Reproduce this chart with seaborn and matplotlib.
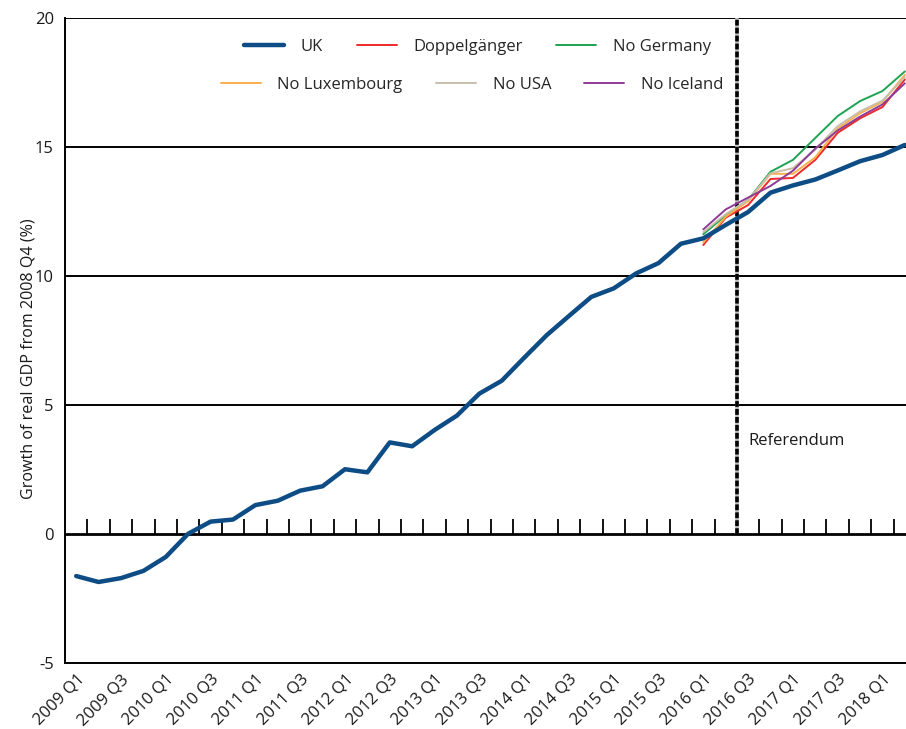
import numpy as np
import pandas as pd
import matplotlib
matplotlib.use("Agg")
import matplotlib.pyplot as plt
import seaborn as sns
from matplotlib.lines import Line2D

# ---------------- data ----------------
years = list(range(2009, 2019))
quarters = [f"{y} Q{q}" for y in years for q in range(1, 5)][:38]  # 2009 Q1 .. 2018 Q2

uk = [-1.63, -1.86, -1.71, -1.43, -0.89, 0.01, 0.48, 0.56, 1.12, 1.29,
      1.68, 1.85, 2.51, 2.39, 3.55, 3.40, 4.03, 4.59, 5.44, 5.94,
      6.83, 7.70, 8.45, 9.19, 9.52, 10.10, 10.50, 11.25, 11.46, 11.98,
      12.48, 13.23, 13.51, 13.74, 14.09, 14.45, 14.69, 15.08]

cf_start = "2016 Q1"
doppelganger = [11.20, 12.26, 12.75, 13.76, 13.80, 14.50, 15.55, 16.11, 16.55, 17.62]
no_germany   = [11.62, 12.35, 12.95, 14.04, 14.50, 15.35, 16.20, 16.78, 17.17, 17.93]
no_luxembourg = [11.30, 12.30, 12.90, 13.96, 13.96, 14.60, 15.72, 16.31, 16.75, 17.80]
no_usa       = [11.70, 12.40, 12.95, 13.98, 14.18, 14.90, 15.81, 16.38, 16.80, 17.71]
no_iceland   = [11.81, 12.58, 13.04, 13.49, 14.08, 14.94, 15.64, 16.18, 16.65, 17.47]

series_names = ["Doppelgänger", "No Germany", "No Luxembourg", "No USA", "No Iceland"]
series_vals = [doppelganger, no_germany, no_luxembourg, no_usa, no_iceland]
colors = {"UK": "#0d4c84", "Doppelgänger": "#ee2a2a", "No Germany": "#1ea352",
          "No Luxembourg": "#f8b04c", "No USA": "#c9bfa9", "No Iceland": "#8d3b97"}

referendum_after = "2016 Q2"
yticks = [-5, 0, 5, 10, 15, 20]

# ---------------- build frames ----------------
idx = {q: i for i, q in enumerate(quarters)}
uk_df = pd.DataFrame({"x": np.arange(len(quarters)), "value": uk})
s0 = idx[cf_start]
rows = []
for name, vals in zip(series_names, series_vals):
    for k, v in enumerate(vals):
        rows.append({"x": s0 + k, "value": v, "series": name})
cf_df = pd.DataFrame(rows)

# ---------------- plot ----------------
sns.set_theme(style="white")
plt.rcParams["font.family"] = ["Open Sans", "DejaVu Sans"]

fig = plt.figure(figsize=(9.06, 7.29), dpi=100)
ax = fig.add_axes([65 / 906, 1 - 663 / 729, 1 - 65 / 906, (663 - 18) / 729])

# gridlines
for yv in yticks[2:]:
    ax.axhline(yv, color="black", lw=1.4, zorder=1)
ax.axhline(0, color="black", lw=2.0, zorder=1)

# category boundary ticks at zero line
bounds = np.arange(len(quarters) - 1) + 0.5
ax.vlines(bounds, 0, 0.58, color="black", lw=1.3, zorder=1)

# referendum line
rx = idx[referendum_after] + 0.5
ax.vlines(rx, 0, 20, color="#bbbbbb", lw=2.6, zorder=2)
ax.vlines(rx, 0, 20, color="black", lw=2.6, linestyles=(0, (1.6, 0.6)), zorder=2)
ax.text(rx + 0.5, 3.6, "Referendum", fontsize=12, va="center", ha="left", color="#1a1a1a")

sns.lineplot(data=cf_df, x="x", y="value", hue="series", hue_order=series_names,
             palette=colors, lw=1.4, ax=ax, legend=False, zorder=3)
sns.lineplot(data=uk_df, x="x", y="value", color=colors["UK"], lw=3.2, ax=ax,
             legend=False, zorder=4)

ax.set_xlim(-0.5, len(quarters) - 1 + 0.05)
ax.set_ylim(-5, 20)
ax.set_yticks(yticks)
ax.set_yticklabels([str(v) for v in yticks], fontsize=12, color="#1a1a1a")
ax.set_xticks(np.arange(0, len(quarters), 2))
ax.set_xticklabels(quarters[::2], rotation=45, ha="right", rotation_mode="anchor",
                   fontsize=12, color="#1a1a1a")
ax.tick_params(axis="both", length=0)
ax.tick_params(axis="x", pad=6)
ax.tick_params(axis="y", pad=8)
ax.set_xlabel("")
ax.set_ylabel("Growth of real GDP from 2008 Q4 (%)", fontsize=11.6, color="#1a1a1a")
ax.yaxis.set_label_coords(-0.034, 0.472)

for s in ["top", "right"]:
    ax.spines[s].set_visible(False)
for s in ["left", "bottom"]:
    ax.spines[s].set_color("black")
    ax.spines[s].set_linewidth(1.4)

# legends
row1 = ["UK", "Doppelgänger", "No Germany"]
row2 = ["No Luxembourg", "No USA", "No Iceland"]
def handles(names):
    return [Line2D([0], [0], color=colors[n], lw=(3.2 if n == "UK" else 1.4)) for n in names]
fig.legend(handles(row1), row1, loc="center", bbox_to_anchor=(0.527, 0.936), ncol=3,
           frameon=False, fontsize=12, handlelength=2.4, handletextpad=1.0,
           columnspacing=2.0)
fig.legend(handles(row2), row2, loc="center", bbox_to_anchor=(0.521, 0.883), ncol=3,
           frameon=False, fontsize=12, handlelength=2.4, handletextpad=1.0,
           columnspacing=2.0)

fig.savefig("out.png", dpi=100)
